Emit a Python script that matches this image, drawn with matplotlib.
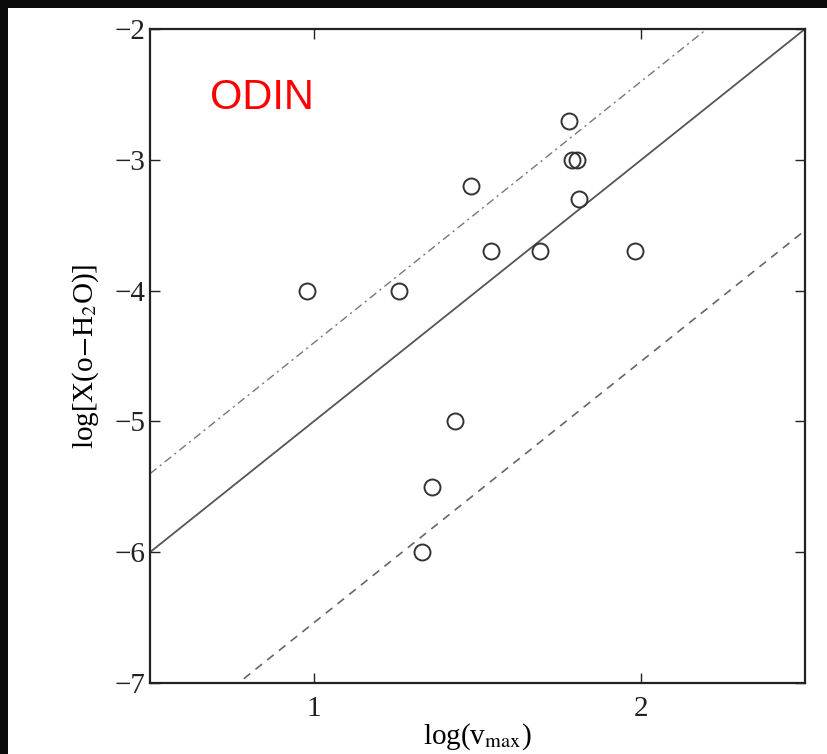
import numpy as np
import matplotlib
matplotlib.use("Agg")
import matplotlib.pyplot as plt
from matplotlib.patches import Rectangle

# data
log_v = [0.98, 1.26, 1.48, 1.54, 1.69, 1.78, 1.79, 1.805, 1.81, 1.98, 1.43, 1.36, 1.33]
log_x = [-4.0, -4.0, -3.2, -3.7, -3.7, -2.7, -3.0, -3.0, -3.3, -3.7, -5.0, -5.5, -6.0]

# lines of slope 2 with different offsets
slope = 2.0
off_fit = -7.0
off_upper = -6.4
off_lower = -8.54

xticks = [1, 2]
yticks = [-2, -3, -4, -5, -6, -7]

plt.rcParams["font.family"] = ["Liberation Serif", "DejaVu Serif"]
plt.rcParams["mathtext.fontset"] = "stix"

fig = plt.figure(figsize=(8.28, 7.54), dpi=100)
fig.patch.set_facecolor("white")
# black border from the screenshot
fig.patches.append(Rectangle((0, 1 - 8 / 754), 1, 8 / 754, transform=fig.transFigure,
                             facecolor="#0b0b0b", edgecolor="none", zorder=0))
fig.patches.append(Rectangle((0, 0), 8 / 828, 1, transform=fig.transFigure,
                             facecolor="#0b0b0b", edgecolor="none", zorder=0))

ax = fig.add_axes([150 / 828, 71 / 754, 655 / 828, 654 / 754])

xx = np.array([0.5, 2.5])
ax.plot(xx, slope * xx + off_fit, color="#555555", lw=1.3, ls="-")
ax.plot(xx, slope * xx + off_upper, color="#777777", lw=1.0, ls=(0, (6, 3, 1.5, 3)))
ax.plot(xx, slope * xx + off_lower, color="#666666", lw=1.2, ls=(0, (5, 4)))

ax.plot(log_v, log_x, "o", ms=11.5, mfc="none", mec="#333333", mew=1.4)

ax.text(0.092, 0.895, "ODIN", transform=ax.transAxes, color="red", fontsize=30,
        family=["Liberation Sans", "DejaVu Sans"], va="center", ha="left")

ax.set_xlim(0.5, 2.5)
ax.set_ylim(-7, -2)
ax.set_xticks(xticks)
ax.set_yticks(yticks)
ax.tick_params(direction="in", length=7, width=1, top=True, right=True,
               labelsize=21, pad=3, colors="#222222")
ax.tick_params(axis="x", pad=9)
for s in ax.spines.values():
    s.set_linewidth(1.6)
    s.set_color("#222222")

ax.set_xlabel(r"log(v$_{\mathrm{max}}$)", fontsize=21, labelpad=0)
ax.set_ylabel(r"log[X(o$-$H$_2$O)]", fontsize=21, labelpad=10)

fig.savefig("out.png", dpi=100)
